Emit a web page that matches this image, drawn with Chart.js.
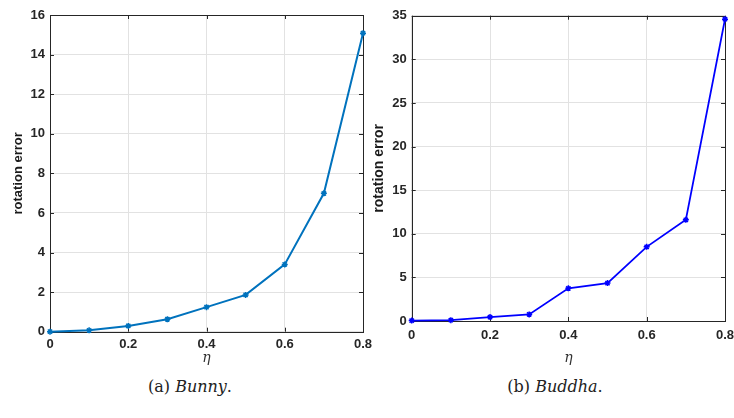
<!DOCTYPE html>
<html>
<head>
<meta charset="utf-8">
<script src="https://cdn.jsdelivr.net/npm/chart.js@4/dist/chart.umd.min.js"></script>
<style>
  html, body { margin: 0; padding: 0; background: #fff; }
  body { width: 734px; height: 418px; position: relative; overflow: hidden; }
  .wrap { position: absolute; top: 0; height: 370px; }
  #wrapA { left: 0; width: 380px; z-index: 2; }
  #wrapB { left: 370px; width: 364px; z-index: 1; }
  .cap { position: absolute; top: 377px; font-family: "DejaVu Serif", "Liberation Serif", serif; font-size: 16px; color: #222; white-space: nowrap; transform: translateX(-50%); }
  .cap i { font-style: italic; }
</style>
</head>
<body>
<div class="wrap" id="wrapA"><canvas id="chartA" width="380" height="370"></canvas></div>
<div class="wrap" id="wrapB"><canvas id="chartB" width="364" height="370"></canvas></div>
<div class="cap" style="left:190px">(a) <i>Bunny</i>.</div>
<div class="cap" style="left:555px">(b) <i>Buddha</i>.</div>
<script>
// ---- data ----
const etaValues = [0, 0.1, 0.2, 0.3, 0.4, 0.5, 0.6, 0.7, 0.8];
const bunnyErrors = [0.0, 0.07, 0.29, 0.63, 1.24, 1.86, 3.40, 6.99, 15.08];
const buddhaErrors = [0.05, 0.1, 0.45, 0.75, 3.75, 4.35, 8.5, 11.6, 34.6];
const xTickLabels = ["0", "0.2", "0.4", "0.6", "0.8"];
const bunnyYTicks = [0, 2, 4, 6, 8, 10, 12, 14, 16];
const buddhaYTicks = [0, 5, 10, 15, 20, 25, 30, 35];
const xTitle = "η";
const yTitle = "rotation error";

const AXIS_COLOR = '#262626';
const GRID_COLOR = '#e2e2e2';

const boxPlugin = {
  id: 'matlabBox',
  beforeDatasetsDraw(chart) {
    const { ctx, chartArea: a, scales } = chart;
    ctx.save();
    ctx.strokeStyle = AXIS_COLOR;
    ctx.lineWidth = 1;
    ctx.strokeRect(Math.round(a.left) + 0.5, Math.round(a.top) + 0.5,
                   Math.round(a.right) - Math.round(a.left), Math.round(a.bottom) - Math.round(a.top));
    const tl = 4;
    ctx.beginPath();
    scales.x.ticks.forEach(t => {
      const px = Math.round(scales.x.getPixelForValue(t.value)) + 0.5;
      ctx.moveTo(px, a.bottom); ctx.lineTo(px, a.bottom - tl);
      ctx.moveTo(px, a.top); ctx.lineTo(px, a.top + tl);
    });
    scales.y.ticks.forEach(t => {
      const py = Math.round(scales.y.getPixelForValue(t.value)) + 0.5;
      ctx.moveTo(a.left, py); ctx.lineTo(a.left + tl, py);
      ctx.moveTo(a.right, py); ctx.lineTo(a.right - tl, py);
    });
    ctx.stroke();
    ctx.restore();
  }
};

function makeChart(id, values, yTicks, opt) {
  const pts = etaValues.map((x, i) => ({ x: x, y: values[i] }));
  return new Chart(document.getElementById(id), {
    type: 'line',
    data: {
      datasets: [{
        data: pts,
        borderColor: opt.color,
        backgroundColor: opt.color,
        borderWidth: opt.lineWidth,
        pointStyle: 'star',
        pointRadius: 3,
        pointBorderWidth: 1.5,
        tension: 0,
        clip: 6
      }]
    },
    plugins: [boxPlugin],
    options: {
      responsive: false,
      animation: false,
      events: [],
      layout: { padding: { left: 0, right: opt.padRight, top: opt.padTop, bottom: 0 } },
      plugins: { legend: { display: false }, tooltip: { enabled: false } },
      scales: {
        x: {
          type: 'linear',
          min: 0, max: 0.8,
          afterBuildTicks: s => { s.ticks = xTickLabels.map(v => ({ value: parseFloat(v) })); },
          afterFit: s => { s.height = opt.xAxisH; s.paddingLeft = 0; s.paddingRight = 0; },
          ticks: {
            color: AXIS_COLOR, padding: opt.xTickPad, maxRotation: 0, autoSkip: false,
            font: { family: 'Liberation Sans, Arial, sans-serif', weight: 'bold', size: opt.tickSize },
            callback: (v) => xTickLabels.find(l => Math.abs(parseFloat(l) - v) < 1e-9) ?? ''
          },
          grid: { color: GRID_COLOR, drawTicks: false },
          border: { display: false },
          title: {
            display: true, text: xTitle, color: '#333',
            font: { family: 'DejaVu Serif, Liberation Serif, serif', style: 'italic', size: 14 },
            padding: { top: 0, bottom: 3.5 }
          }
        },
        y: {
          type: 'linear',
          min: yTicks[0], max: yTicks[yTicks.length - 1],
          afterBuildTicks: s => { s.ticks = yTicks.map(v => ({ value: v })); },
          afterFit: s => { s.width = opt.yAxisW; s.paddingTop = 0; s.paddingBottom = 0; },
          ticks: {
            color: AXIS_COLOR, padding: 5, autoSkip: false,
            font: { family: 'Liberation Sans, Arial, sans-serif', weight: 'bold', size: opt.tickSize },
            callback: v => String(v)
          },
          grid: { color: GRID_COLOR, drawTicks: false },
          border: { display: false },
          title: {
            display: true, text: yTitle, color: '#1a1a1a',
            font: { family: 'Liberation Sans, Arial, sans-serif', weight: 'bold', size: opt.yTitleSize },
            padding: { top: opt.yTitlePad, bottom: 0 }
          }
        }
      }
    }
  });
}

makeChart('chartA', bunnyErrors, bunnyYTicks, {
  color: '#0072BD', lineWidth: 2,
  padRight: 17, padTop: 15, xAxisH: 38.3, yAxisW: 50, xTickPad: 5,
  tickSize: 13, yTitleSize: 13, yTitlePad: 11
});
makeChart('chartB', buddhaErrors, buddhaYTicks, {
  color: '#0000FF', lineWidth: 1.8,
  padRight: 9, padTop: 15.7, xAxisH: 49, yAxisW: 41.7, xTickPad: 7,
  tickSize: 13, yTitleSize: 14, yTitlePad: 1
});
</script>
</body>
</html>
